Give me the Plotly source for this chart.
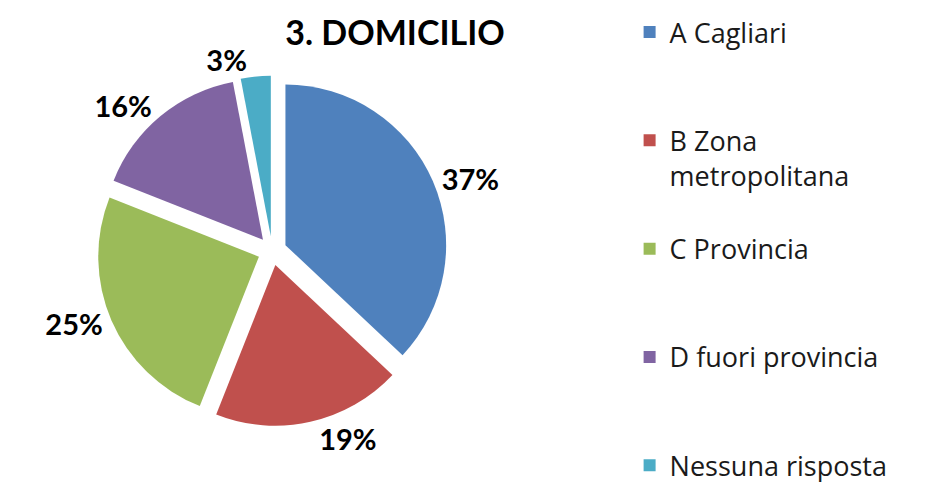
import plotly.graph_objects as go

categories = ["A Cagliari", "B Zona<br>metropolitana", "C Provincia", "D fuori provincia", "Nessuna risposta"]
values = [37, 19, 25, 16, 3]
colors = ["#4F81BD", "#C0504D", "#9BBB59", "#8064A2", "#4BACC6"]
title_text = "3. DOMICILIO"

# pad legend entries so every entry occupies the same slot height
def pad(label, lines):
    n = label.count("<br>") + 1
    return label + "<br> " * max(lines - n, 0)

legend_labels = [pad(c, 3) for c in categories[:-1]] + [categories[-1]]

fig = go.Figure(go.Pie(
    labels=legend_labels,
    values=values,
    sort=False,
    direction="clockwise",
    rotation=0,
    pull=[0.09] * len(values),
    marker=dict(colors=colors, line=dict(color="white", width=0)),
    texttemplate="%{percent:.0%}",
    textposition="outside",
    textfont=dict(family="Lato", size=29, color="black", weight="bold"),
    domain=dict(x=[0.0, 0.42], y=[0.02, 0.9]),
    hovertemplate="%{label}: %{value}<extra></extra>",
))

fig.update_layout(
    width=927, height=482,
    paper_bgcolor="white", plot_bgcolor="white",
    margin=dict(l=0, r=0, t=0, b=0),
    font=dict(family="Lato", color="black"),
    title=dict(text="<b>" + title_text + "</b>", x=387/927, xanchor="center",
               y=0.972, yanchor="top", font=dict(size=34, family="Lato", color="black")),
    legend=dict(x=0.636, xanchor="left", y=1.022, yanchor="top", valign="top",
                font=dict(size=27, family="Open Sans", color="#1a1a1a"),
                itemwidth=30, bgcolor="rgba(0,0,0,0)", maxheight=1.0),
)

fig.write_html("out.html")
